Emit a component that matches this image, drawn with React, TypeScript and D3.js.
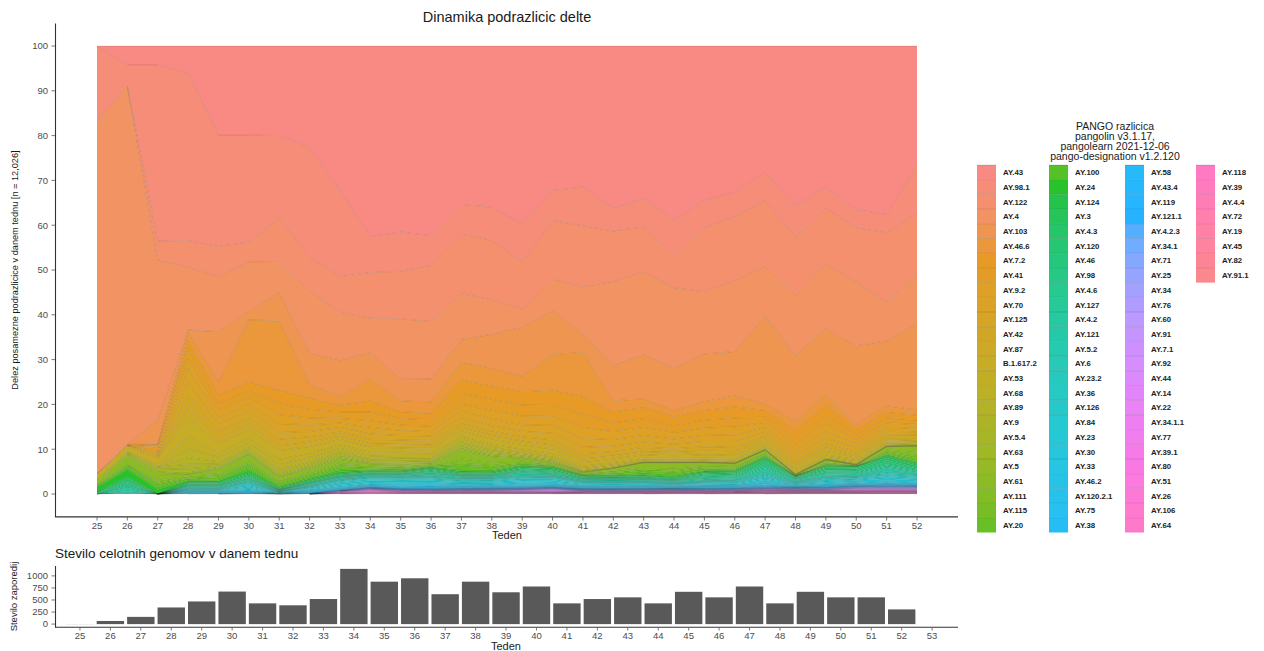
import React from "react";
import * as d3 from "d3";

const weeks = [25, 26, 27, 28, 29, 30, 31, 32, 33, 34, 35, 36, 37, 38, 39, 40, 41, 42, 43, 44, 45, 46, 47, 48, 49, 50, 51, 52];

const lineages = ["AY.43","AY.98.1","AY.122","AY.4","AY.103","AY.46.6","AY.7.2","AY.41","AY.9.2","AY.70","AY.125","AY.42","AY.87","B.1.617.2","AY.53","AY.68","AY.89","AY.9","AY.5.4","AY.63","AY.5","AY.61","AY.111","AY.115","AY.20","AY.100","AY.24","AY.124","AY.3","AY.4.3","AY.120","AY.46","AY.98","AY.4.6","AY.127","AY.4.2","AY.121","AY.5.2","AY.6","AY.23.2","AY.36","AY.126","AY.84","AY.23","AY.30","AY.33","AY.46.2","AY.120.2.1","AY.75","AY.38","AY.58","AY.43.4","AY.119","AY.121.1","AY.4.2.3","AY.34.1","AY.71","AY.25","AY.34","AY.76","AY.60","AY.91","AY.7.1","AY.92","AY.44","AY.14","AY.22","AY.34.1.1","AY.77","AY.39.1","AY.80","AY.51","AY.26","AY.106","AY.64","AY.118","AY.39","AY.4.4","AY.72","AY.19","AY.45","AY.82","AY.91.1"];

// share (%) of each lineage per week, weeks 25..52
const AY_43 = [0,4.2,4.2,6,20,20,20,22.8,32.5,43.3,42.2,42.9,35.9,36.5,40.4,32.8,31.9,36.8,34.6,39.5,35,33,28.6,36.2,32,37.3,38.4,27];
const AY_98_1 = [16.5,4.8,39.1,37.5,25,24,18.4,24.7,19.5,8.2,8.9,6.7,6.7,7.5,8.5,6.8,8.8,5.2,6.5,7.9,6.1,5.5,6.5,7.1,4.9,4.1,4.2,11.1];
const AY_122 = [0,0,4.2,6,6.8,4.5,9.8,7.5,8,10.4,10.8,12.7,13.4,13.5,10.8,13.4,13.8,11.4,10.1,7.5,14.5,14.5,15,13.1,12.4,12.4,15.7,13.8];
const AY_4 = [78.5,79.5,35.5,14,12.3,11,7,14,10.8,7.8,13.7,13,10.4,7.8,4.1,7.1,10.8,19,18.9,18.2,14.1,16,11.1,13.7,14.9,14.5,8.9,11.2];
const AY_103 = [0,0,5.5,0.5,11.2,2,6.3,7.1,8.2,6,4.9,5.2,5.2,7.7,11.1,10,4,8.1,10,9.6,10.8,10,20,14.9,14.8,17.8,14.8,19.6];
const AY_46_6 = [0,0.3,0,2,3,14,15.5,3,2,5,2.5,2.5,4,4,3.5,8,10,2.5,2,1.5,2,2.5,1.5,2,2.5,1.2,1.5,1.2];
const AY_7_2 = [0,0,0.5,1.5,2,2,3,2.5,1.5,2.5,1.5,1.5,3,3,3,3.5,4,2.5,2.5,2,2.2,2.5,1.5,1.8,2.2,1.2,1.3,1.1];
const AY_41 = [0,0,1,2.5,1.5,1.5,2.5,2,1.5,2,1.5,1.5,2.5,2.5,2.5,2.5,3,2,2,1.5,1.8,2,1.2,1.5,2,1.1,1.1,1];
const AY_9_2 = [0,0,0.5,2,1.5,1.5,2,1.5,1,1.5,1.2,1.2,1.5,2,2,2,2.5,1.8,1.8,1.5,1.6,1.8,1.2,1.4,1.8,1,1,0.9];
const AY_70 = [0,0,0.5,3,1.5,1.5,2,1.5,1,1.5,1.2,1,1.5,1.5,1.5,1.8,2,1.5,1.5,1.2,1.4,1.5,1,1.2,1.5,0.9,0.9,0.8];
const AY_125 = [0,0,0,3,1.5,1.5,1.5,1.2,1,1.2,1,1,1.2,1.2,1.2,1.5,1.5,1.2,1.2,1,1.2,1.3,1,1,1.2,0.8,0.8,0.7];
const AY_42 = [0,0.4,0.5,3,2,1.5,1.5,1.2,1,1,1,1,1,1,1,1.2,1.2,1,1,0.9,1,1,0.8,0.9,1,0.7,0.7,0.6];
const AY_87 = [0,0,0,2,1,1,1,1,0.7,0.8,0.8,0.8,0.8,0.8,0.8,0.9,0.8,0.7,0.7,0.7,0.8,0.8,0.7,0.7,0.8,0.6,0.6,0.5];
const B_1_617_2 = [1,1,1.5,4,2,2,2,1.5,1.2,1.2,1,1,1.2,1.2,1,1,0.8,0.8,0.8,0.7,0.8,0.8,0.6,0.7,0.8,0.6,0.5,0.5];
const AY_53 = [0,0,0.5,3,1,1.2,1.2,1,0.8,0.8,0.7,0.6,0.7,0.7,0.6,0.6,0.5,0.5,0.4,0.4,0.4,0.5,0.4,0.4,0.5,0.5,0.4,0.4];
const AY_68 = [0,0,0,2,1,1,1,0.8,0.6,0.6,0.6,0.5,0.6,0.5,0.4,0.4,0.3,0.3,0.3,0.2,0.3,0.3,0.3,0.3,0.3,0.3,0.2,0.2];
const AY_89 = [0,0,0,1.5,0.5,0.5,0.6,0.5,0.4,0.3,0.3,0.3,0.3,0.3,0.3,0.3,0.2,0.2,0.1,0.1,0.1,0.1,0.1,0.1,0.1,0.2,0.1,0.1];
const AY_9 = [0.5,0.5,0.5,1,0.5,0.3,0.5,0.5,0.5,0.4,0.4,0.4,0.6,0.5,0.3,0.3,0.2,0.2,0.1,0.1,0.1,0.1,0.1,0.1,0.1,0.1,0.1,0.1];
const AY_5_4 = [0,0,0.5,0.7,0.3,0.4,0.3,0.3,0.4,0.2,0.3,0.3,0.4,0.3,0.2,0.2,0.1,0.05,0.05,0.05,0.05,0.05,0.05,0.05,0.05,0.05,0.05,0.05];
const AY_63 = [0,0,0,0.5,0.2,0.2,0.2,0.2,0.3,0.2,0.3,0.2,0.3,0.3,0.2,0.2,0.05,0.03,0.03,0.03,0.03,0.03,0.03,0.03,0.03,0.03,0.03,0.03];
const AY_5 = [0.5,0.5,0.5,0,0.2,0.1,0.1,0.2,0.3,0.1,0.2,0.2,0.3,0.2,0.1,0.1,0.05,0.02,0.02,0.02,0.02,0.02,0.02,0.02,0.02,0.02,0.02,0.02];
const AY_61 = [0.5,1.5,1.5,0.5,1,1.5,0.8,0.8,1,0.5,0.5,0.3,2,1.3,0.6,0.4,0.3,0.6,1,1.2,0.7,0.6,0.6,0.1,0.5,0.15,0.8,1.5];
const AY_111 = [0,0.5,0.5,0.3,0.5,0.5,0.4,0.4,0.5,0.3,0.3,0.1,1,0.7,0.4,0.2,0.1,0.3,0.5,0.6,0.4,0.3,0.3,0.05,0.3,0.05,0.4,0.8];
const AY_115 = [0,0,0.3,0.2,0.3,0.3,0.2,0.2,0.3,0.2,0.2,0.1,0.5,0.4,0.2,0.1,0.1,0.2,0.3,0.3,0.2,0.2,0.2,0.05,0.1,0.05,0.2,0.4];
const AY_20 = [0.5,0.5,0.7,0.3,0.5,0.8,0.5,0.5,0.6,0.3,0.3,0.2,0.8,0.6,0.3,0.2,0.1,0.3,0.5,0.5,0.4,0.3,0.3,0.05,0.3,0.05,0.4,0.7];
const AY_100 = [0,0.5,0.5,0.2,0.3,0.5,0.3,0.3,0.3,0.2,0.1,0.1,0.4,0.3,0.2,0.1,0.1,0.2,0.3,0.4,0.2,0.2,0.2,0.03,0.1,0.05,0.2,0.4];
const AY_24 = [1,1.5,1,0.3,0.3,0.5,0.3,0.3,0.4,0.1,0.1,0.05,0.3,0.2,0.1,0.1,0.05,0.1,0.2,0.2,0.2,0.1,0.1,0.01,0.1,0.03,0.1,0.2];
const AY_124 = [0,0,0,0.1,0.1,0.2,0.1,0.1,0.1,0.1,0.1,0.05,0.1,0.1,0.1,0.1,0.05,0.1,0.2,0.2,0.1,0.1,0.1,0.01,0.1,0.02,0.1,0.2];
const AY_3 = [0,0.5,0,0.2,0.2,0.3,0.1,0.2,0.2,0.2,0.2,0.2,0.2,0.2,0.3,0.3,0.2,0.2,0.2,0.1,0.2,0.2,0.4,0.1,0.3,0.2,0.4,0.3];
const AY_4_3 = [0,0.5,0,0.2,0.2,0.3,0.1,0.2,0.2,0.2,0.2,0.3,0.2,0.2,0.3,0.3,0.2,0.2,0.2,0.2,0.3,0.3,0.5,0.2,0.3,0.3,0.5,0.3];
const AY_120 = [0,0.3,0,0.1,0.1,0.2,0.05,0.1,0.1,0.1,0.1,0.2,0.1,0.1,0.2,0.2,0.1,0.1,0.1,0.1,0.2,0.2,0.4,0.1,0.3,0.3,0.4,0.3];
const AY_46 = [0.5,0.5,0,0.1,0.1,0.2,0.05,0.1,0.1,0.1,0.1,0.2,0.1,0.1,0.2,0.2,0.1,0.1,0.1,0.1,0.2,0.2,0.4,0.1,0.3,0.3,0.5,0.3];
const AY_98 = [0,0.3,0,0.1,0.1,0.2,0.05,0.1,0.1,0.1,0.1,0.2,0.1,0.1,0.2,0.2,0.1,0.1,0.1,0.1,0.2,0.2,0.3,0.1,0.2,0.2,0.3,0.2];
const AY_4_6 = [0,0.2,0,0.1,0.1,0.1,0.05,0.1,0.1,0.1,0.1,0.2,0.1,0.1,0.2,0.2,0.1,0.1,0.1,0.1,0.2,0.2,0.3,0.1,0.2,0.2,0.3,0.2];
const AY_127 = [0,0.2,0,0.1,0.1,0.1,0.05,0.1,0.1,0.1,0.1,0.1,0.1,0.1,0.1,0.1,0.1,0.1,0.1,0.1,0.2,0.2,0.3,0.1,0.2,0.2,0.3,0.2];
const AY_4_2 = [0,0.8,0,0.2,0.2,0.4,0.1,0.2,0.3,0.2,0.2,0.4,0.3,0.3,0.4,0.3,0.2,0.2,0.2,0.2,0.3,0.3,0.7,0.3,0.5,0.4,0.7,0.4];
const AY_121 = [0,0.2,0,0.1,0.1,0.1,0.05,0.1,0.1,0.1,0.1,0.1,0.1,0.1,0.1,0.1,0.1,0.1,0.1,0.1,0.1,0.1,0.2,0.1,0.1,0.1,0.2,0.1];
const AY_5_2 = [0,0.2,0,0.1,0.1,0.1,0.05,0.1,0.1,0.1,0.1,0.1,0.1,0.1,0.1,0.1,0.1,0.1,0.1,0.1,0.1,0.1,0.2,0.1,0.1,0.1,0.2,0.1];
const AY_6 = [0,0.2,0,0.1,0.1,0.2,0.05,0.1,0.1,0.1,0.1,0.2,0.1,0.1,0.2,0.1,0.1,0.1,0.1,0.1,0.1,0.1,0.3,0.1,0.2,0.1,0.3,0.2];
const AY_23_2 = [0,0,0,0.1,0.1,0.2,0.05,0.1,0.2,0.2,0.2,0.2,0.2,0.2,0.2,0.2,0.1,0.1,0.1,0.1,0.1,0.2,0.2,0.1,0.2,0.2,0.2,0.2];
const AY_36 = [0,0,0,0.1,0.1,0.2,0.05,0.1,0.2,0.2,0.2,0.2,0.2,0.2,0.2,0.2,0.1,0.1,0.1,0.1,0.1,0.1,0.2,0.1,0.2,0.2,0.2,0.2];
const AY_126 = [0,0,0,0.1,0.1,0.3,0.05,0.2,0.3,0.3,0.3,0.3,0.2,0.2,0.3,0.3,0.2,0.2,0.2,0.1,0.2,0.2,0.3,0.1,0.2,0.2,0.3,0.3];
const AY_84 = [0,0,0,0.1,0.1,0.3,0.05,0.2,0.3,0.3,0.3,0.3,0.2,0.2,0.3,0.3,0.2,0.2,0.2,0.1,0.2,0.2,0.3,0.1,0.2,0.2,0.3,0.3];
const AY_23 = [0,0,0,0.1,0.1,0.3,0.05,0.2,0.3,0.3,0.3,0.3,0.3,0.3,0.3,0.3,0.2,0.2,0.2,0.2,0.2,0.2,0.4,0.2,0.3,0.3,0.4,0.3];
const AY_30 = [0,0,0,0.1,0.1,0.2,0.05,0.1,0.2,0.2,0.2,0.2,0.2,0.2,0.2,0.2,0.1,0.1,0.1,0.1,0.1,0.1,0.2,0.1,0.2,0.2,0.2,0.2];
const AY_33 = [0,0,0,0.1,0.1,0.2,0.05,0.1,0.2,0.2,0.2,0.2,0.2,0.2,0.2,0.2,0.1,0.1,0.1,0.1,0.1,0.1,0.2,0.1,0.2,0.2,0.2,0.2];
const AY_46_2 = [0,0,0,0.1,0.1,0.1,0.05,0.1,0.1,0.1,0.2,0.2,0.1,0.1,0.2,0.1,0.1,0.1,0.1,0.1,0.1,0.1,0.2,0.1,0.1,0.1,0.2,0.1];
const AY_120_2_1 = [0,0,0,0.1,0.1,0.1,0.05,0.1,0.1,0.1,0.2,0.2,0.1,0.1,0.2,0.1,0.1,0.1,0.1,0.1,0.1,0.1,0.2,0.1,0.1,0.1,0.2,0.1];
const AY_75 = [0,0,0,0.1,0.1,0.1,0.05,0.1,0.1,0.1,0.1,0.1,0.1,0.1,0.1,0.1,0.1,0.1,0.1,0.05,0.1,0.1,0.1,0.05,0.1,0.1,0.1,0.1];
const AY_38 = [0,0,0,0.1,0.05,0.1,0.05,0.1,0.1,0.1,0.1,0.1,0.1,0.1,0.1,0.1,0.1,0.1,0.1,0.05,0.1,0.1,0.1,0.05,0.1,0.1,0.1,0.1];
const AY_58 = [0,0,0,0.05,0.05,0.1,0,0.05,0.1,0.1,0.1,0.1,0.1,0.1,0.1,0.1,0.05,0.05,0.05,0.05,0.1,0.1,0.1,0.05,0.1,0.1,0.1,0.1];
const AY_43_4 = [0,0,0,0,0.05,0.05,0,0.05,0.05,0.05,0.05,0.1,0.05,0.05,0.1,0.05,0.05,0.05,0.05,0.05,0.05,0.05,0.1,0.05,0.05,0.05,0.1,0.05];
const AY_119 = [0,0,0,0,0,0.05,0,0.05,0.05,0.05,0.05,0.05,0.05,0.05,0.05,0.05,0.05,0.05,0.05,0.05,0.05,0.05,0.1,0.05,0.05,0.05,0.1,0.05];
const AY_121_1 = [0,0,0,0,0,0,0,0,0.05,0.05,0.05,0.05,0.05,0.05,0.05,0.05,0.05,0,0.05,0,0.05,0.05,0.05,0.05,0.05,0.05,0.05,0.05];
const AY_4_2_3 = [0,0,0,0,0,0,0,0,0,0.05,0.05,0.05,0.05,0.05,0.05,0.05,0.05,0.05,0.05,0.05,0.05,0.05,0.05,0.05,0.05,0.05,0.05,0.05];
const AY_34_1 = [0,0,0,0,0,0,0,0,0,0,0.05,0.05,0.05,0.05,0.05,0.05,0.05,0.05,0.05,0.05,0.05,0.05,0.05,0.05,0.1,0.1,0.1,0.1];
const AY_71 = [0,0,0,0,0,0,0,0,0.05,0.05,0.05,0.05,0.05,0.05,0.05,0.05,0,0,0,0,0,0,0,0,0,0,0,0];
const AY_25 = [0,0,0,0,0,0.05,0,0.05,0.05,0.05,0.05,0.05,0.05,0.05,0.05,0.05,0.05,0.05,0.05,0.05,0.05,0.05,0.05,0.05,0.05,0.05,0.05,0.05];
const AY_34 = [0,0,0,0,0,0,0,0,0,0.05,0.05,0.05,0.05,0.05,0.05,0.05,0.05,0.05,0.05,0.05,0.05,0.05,0.05,0.05,0.05,0.1,0.1,0.1];
const AY_76 = [0,0,0,0,0,0,0,0,0,0,0,0.05,0.05,0.05,0.05,0.05,0.05,0.05,0.05,0.05,0.05,0.05,0.05,0.05,0.05,0.05,0.05,0.05];
const AY_60 = [0,0,0,0,0,0,0,0,0,0,0,0,0,0.05,0.05,0.05,0.05,0.05,0.05,0.05,0.05,0.05,0.05,0.05,0.05,0.05,0.05,0.05];
const AY_91 = [0,0,0,0,0,0,0,0,0,0,0,0,0.05,0.05,0.05,0.1,0.05,0.05,0.05,0.05,0.05,0.05,0.05,0.05,0.05,0.1,0.1,0.1];
const AY_7_1 = [0,0,0,0,0,0,0,0,0,0.05,0.05,0.05,0.05,0.05,0.05,0.1,0.05,0.05,0.05,0.05,0.05,0.05,0.05,0.05,0.05,0.1,0.1,0.1];
const AY_92 = [0,0,0,0,0,0,0,0,0,0,0.05,0.05,0.05,0.05,0.1,0.1,0.05,0.05,0.05,0.05,0.05,0.05,0.05,0.05,0.05,0.1,0.1,0.1];
const AY_44 = [0,0,0,0,0,0.05,0,0.05,0.1,0.1,0.1,0.1,0.1,0.1,0.1,0.15,0.05,0.05,0.05,0.05,0.05,0.05,0.1,0.05,0.05,0.1,0.1,0.1];
const AY_14 = [0,0,0,0,0,0,0,0,0.05,0.05,0.05,0.05,0.05,0.05,0.1,0.1,0.05,0.05,0.05,0.05,0.05,0.05,0.05,0.05,0.05,0.05,0.05,0.05];
const AY_22 = [0,0,0,0,0,0,0,0,0.05,0.05,0.05,0.05,0.05,0.05,0.05,0.05,0.05,0.05,0.05,0.05,0.05,0.05,0.05,0.05,0.05,0.05,0.05,0.05];
const AY_34_1_1 = [0,0,0,0,0,0,0,0,0,0,0,0,0,0,0,0,0,0,0,0,0,0,0.05,0.05,0.05,0.1,0.1,0.1];
const AY_77 = [0,0,0,0,0,0,0,0,0.05,0.1,0.05,0.05,0.05,0.05,0.05,0.05,0.05,0.05,0.05,0.05,0.05,0.05,0.05,0.05,0.05,0.05,0.05,0.05];
const AY_39_1 = [0,0,0,0,0,0,0,0,0.1,0.2,0.1,0.05,0.05,0.05,0.05,0.05,0.05,0.05,0.05,0.05,0.05,0.05,0.05,0.05,0.05,0.05,0.05,0.05];
const AY_80 = [0,0,0,0,0,0,0,0,0.05,0.1,0.05,0.05,0.05,0.05,0.05,0.05,0.05,0.05,0.05,0.05,0.05,0.05,0.05,0.05,0.05,0.05,0.05,0.05];
const AY_51 = [0,0,0,0,0,0,0,0,0.05,0.1,0.05,0.05,0.05,0.05,0.05,0.05,0.05,0.05,0.05,0.05,0.05,0.05,0.05,0.05,0.05,0.05,0.05,0.05];
const AY_26 = [0,0,0,0,0,0,0,0,0.05,0.1,0.05,0.05,0.05,0.05,0.05,0.05,0,0,0,0,0,0,0,0,0,0,0,0];
const AY_106 = [0,0,0,0,0,0,0,0,0,0.05,0.05,0.05,0.05,0.05,0.05,0.05,0.05,0.05,0.05,0.05,0.05,0.05,0.1,0.05,0.05,0.05,0.05,0.05];
const AY_64 = [0,0,0,0,0,0,0,0,0.05,0.1,0.05,0.05,0.05,0.05,0.05,0.05,0.05,0.05,0.05,0.05,0.05,0.05,0.05,0.05,0.05,0.05,0.05,0.05];
const AY_118 = [0,0,0,0,0,0,0,0,0,0,0,0,0,0,0,0,0,0,0,0,0,0,0.05,0.05,0.05,0.05,0.1,0.1];
const AY_39 = [0,0,0,0,0,0,0,0,0.05,0.1,0.05,0.05,0.05,0.05,0.05,0.05,0.05,0.05,0.05,0.05,0.05,0.05,0.05,0.05,0.05,0.05,0.05,0.05];
const AY_4_4 = [0,0,0,0,0,0,0,0,0,0.05,0.05,0.05,0.05,0.05,0.05,0.05,0.05,0.05,0.05,0.05,0.05,0.05,0.05,0.05,0.05,0.05,0.05,0.05];
const AY_72 = [0,0,0,0,0,0,0,0,0,0,0,0,0,0,0,0,0.05,0.05,0.05,0.05,0.05,0.05,0.05,0.05,0.05,0.05,0.05,0.05];
const AY_19 = [0,0,0,0,0,0,0,0,0.05,0.05,0.05,0.05,0.05,0.05,0.05,0.05,0.05,0.05,0.05,0.05,0.05,0.05,0.05,0.05,0.05,0.05,0.05,0.05];
const AY_45 = [0,0,0,0,0,0,0,0,0,0,0,0,0,0,0,0,0,0,0,0.05,0.05,0.05,0.05,0.05,0.05,0.05,0.05,0.05];
const AY_82 = [0,0,0,0,0,0,0,0,0,0,0,0,0,0,0,0,0,0,0,0,0,0.05,0.05,0.05,0.05,0.05,0.05,0.05];
const AY_91_1 = [0,0,0,0,0,0,0,0,0,0,0,0,0,0,0,0,0,0,0,0,0,0,0,0.05,0.05,0.05,0.05,0.05];

const lineageSeries = [AY_43, AY_98_1, AY_122, AY_4, AY_103, AY_46_6, AY_7_2, AY_41, AY_9_2, AY_70, AY_125, AY_42, AY_87, B_1_617_2, AY_53, AY_68, AY_89, AY_9, AY_5_4, AY_63, AY_5, AY_61, AY_111, AY_115, AY_20, AY_100, AY_24, AY_124, AY_3, AY_4_3, AY_120, AY_46, AY_98, AY_4_6, AY_127, AY_4_2, AY_121, AY_5_2, AY_6, AY_23_2, AY_36, AY_126, AY_84, AY_23, AY_30, AY_33, AY_46_2, AY_120_2_1, AY_75, AY_38, AY_58, AY_43_4, AY_119, AY_121_1, AY_4_2_3, AY_34_1, AY_71, AY_25, AY_34, AY_76, AY_60, AY_91, AY_7_1, AY_92, AY_44, AY_14, AY_22, AY_34_1_1, AY_77, AY_39_1, AY_80, AY_51, AY_26, AY_106, AY_64, AY_118, AY_39, AY_4_4, AY_72, AY_19, AY_45, AY_82, AY_91_1];

// genome counts per week
const barWeeks = [25, 26, 27, 28, 29, 30, 31, 32, 33, 34, 35, 36, 37, 38, 39, 40, 41, 42, 43, 44, 45, 46, 47, 48, 49, 50, 51, 52];
const barCounts = [2, 65, 150, 345, 470, 675, 430, 390, 520, 1145, 880, 950, 620, 880, 660, 780, 430, 520, 555, 430, 670, 555, 780, 430, 670, 555, 555, 305];

const yTicksTop = [0, 10, 20, 30, 40, 50, 60, 70, 80, 90, 100];
const yTicksBottom = [0, 250, 500, 750, 1000];
const xTicksBottom = [25, 26, 27, 28, 29, 30, 31, 32, 33, 34, 35, 36, 37, 38, 39, 40, 41, 42, 43, 44, 45, 46, 47, 48, 49, 50, 51, 52, 53];

const legendTitle = ["PANGO razlicica", "pangolin v3.1.17,", "pangolearn 2021-12-06", "pango-designation v1.2.120"];

// ggplot2-like hue colour (polar LUV -> sRGB)
function hueColor(h: number, c = 100, l = 65): string {
  const hr = (h * Math.PI) / 180;
  const U = c * Math.cos(hr);
  const V = c * Math.sin(hr);
  const Xn = 95.047, Yn = 100.0, Zn = 108.883;
  const Y = l > 7.999592 ? Yn * Math.pow((l + 16) / 116, 3) : (Yn * l) / 903.3;
  const den = Xn + 15 * Yn + 3 * Zn;
  const un = (4 * Xn) / den;
  const vn = (9 * Yn) / den;
  const u = U / (13 * l) + un;
  const v = V / (13 * l) + vn;
  const X = (9.0 * Y * u) / (4 * v);
  const Z = -X / 3 - 5 * Y + (3 * Y) / v;
  const x = X / 100, y = Y / 100, z = Z / 100;
  const lin = [
    3.240479 * x - 1.53715 * y - 0.498535 * z,
    -0.969256 * x + 1.875992 * y + 0.041556 * z,
    0.055648 * x - 0.204043 * y + 1.057311 * z,
  ];
  const g = lin.map((t) => {
    const s = t > 0.00304 ? 1.055 * Math.pow(t, 1 / 2.4) - 0.055 : 12.92 * t;
    return Math.round(255 * Math.max(0, Math.min(1, s)));
  });
  return d3.rgb(g[0], g[1], g[2]).formatHex();
}

const FONT = "'Liberation Sans', Arial, Helvetica, sans-serif";

export default function App() {
  const n = lineages.length;
  const colors = lineages.map((_, j) => hueColor(15 + (360 * j) / n));
  const colorOf = new Map(lineages.map((name, j) => [name, colors[j]]));

  const rows = weeks.map((w, i) => {
    const r: any = { week: w };
    lineages.forEach((name, j) => {
      r[name] = lineageSeries[j][i];
    });
    return r;
  });

  const stacked = d3
    .stack<any>()
    .keys([...lineages].reverse())
    .offset(d3.stackOffsetExpand)(rows);

  const xTop = d3.scaleLinear().domain([23.65, 53.35]).range([56, 958]);
  const yTop = d3.scaleLinear().domain([-0.05, 1.05]).range([516.4, 23.6]);

  const area = d3
    .area<any>()
    .x((d) => xTop(d.data.week))
    .y0((d) => yTop(d[0]))
    .y1((d) => yTop(d[1]));

  // upper outline of each layer, as continuous runs where the layer has some thickness
  const upperPath = (s: any[]) => {
    let p = "";
    let open = false;
    for (let i = 0; i < s.length - 1; i++) {
      const a = s[i], b = s[i + 1];
      const keep = a[1] - a[0] > 1e-9 || b[1] - b[0] > 1e-9;
      if (!keep) {
        open = false;
        continue;
      }
      if (!open) {
        p += `M${xTop(a.data.week)},${yTop(a[1])}`;
        open = true;
      }
      p += `L${xTop(b.data.week)},${yTop(b[1])}`;
    }
    return p;
  };

  const xBot = d3.scaleLinear().domain([24.18, 53.85]).range([55, 958]);
  const yBot = d3.scaleLinear().domain([-60, 1205]).range([627, 566]);
  const bw = 0.9 * (xBot(1) - xBot(0));

  const keyX = [977, 1049, 1125, 1196];
  const rowH = 14.7;

  return (
    <svg
      width={1264}
      height={651}
      style={{ position: "absolute", left: 0, top: 0, display: "block", background: "#fff" }}
      fontFamily={FONT}
    >
      {/* Title */}
      <text x={507} y={22} textAnchor="middle" fontSize={14.5} fill="#1a1a1a">
        Dinamika podrazlicic delte
      </text>

      {/* Stacked areas */}
      <g>
        {stacked.map((s) => (
          <path key={"a" + s.key} d={area(s) || ""} fill={colorOf.get(s.key)} fillOpacity={0.85} stroke="none" />
        ))}
        {stacked.map((s) => (
          <path
            key={"l" + s.key}
            d={upperPath(s)}
            fill="none"
            stroke="#000"
            strokeOpacity={0.18}
            strokeWidth={0.6}
            strokeLinejoin="round"
          />
        ))}
      </g>

      {/* Top axes */}
      <line x1={55.5} x2={55.5} y1={23.6} y2={517} stroke="#333" strokeWidth={1.1} />
      <line x1={55} x2={958} y1={516.9} y2={516.9} stroke="#333" strokeWidth={1.1} />
      {yTicksTop.map((t) => (
        <g key={"yt" + t}>
          <line x1={51.5} x2={55} y1={yTop(t / 100)} y2={yTop(t / 100)} stroke="#555" strokeWidth={0.8} />
          <text x={48} y={yTop(t / 100) + 3.3} textAnchor="end" fontSize={9.5} fill="#4d4d4d">
            {t}
          </text>
        </g>
      ))}
      {weeks.map((w) => (
        <g key={"xt" + w}>
          <line x1={xTop(w)} x2={xTop(w)} y1={517} y2={520.5} stroke="#555" strokeWidth={0.8} />
          <text x={xTop(w)} y={528.5} textAnchor="middle" fontSize={9.5} fill="#4d4d4d">
            {w}
          </text>
        </g>
      ))}
      <text x={507} y={539} textAnchor="middle" fontSize={11} fill="#1a1a1a">
        Teden
      </text>
      <text
        transform={`translate(18,${(23.6 + 516.4) / 2}) rotate(-90)`}
        textAnchor="middle"
        fontSize={9.2}
        fill="#1a1a1a"
      >
        Delez posamezne podrazlicice v danem tednu [n = 12,026]
      </text>

      {/* Legend */}
      {legendTitle.map((t, i) => (
        <text key={"lt" + i} x={1115} y={130 + i * 10} textAnchor="middle" fontSize={10.5} fill="#1a1a1a">
          {t}
        </text>
      ))}
      {lineages.map((name, j) => {
        const col = Math.floor(j / 25);
        const row = j % 25;
        const x = keyX[col];
        const y = 165 + row * rowH;
        return (
          <g key={"lg" + name}>
            <rect x={x} y={y} width={19} height={rowH} fill={colors[j]} fillOpacity={0.85} />
            <line x1={x} x2={x + 19} y1={y} y2={y} stroke="#000" strokeOpacity={0.2} strokeWidth={0.6} />
            <text x={x + 26} y={y + 10.2} fontSize={7.8} fontWeight="bold" fill="#222">
              {name}
            </text>
          </g>
        );
      })}

      {/* Bottom chart */}
      <text x={55} y={558} fontSize={13.5} fill="#1a1a1a">
        Stevilo celotnih genomov v danem tednu
      </text>
      {barWeeks.map((w, i) => (
        <rect
          key={"b" + w}
          x={xBot(w) - bw / 2}
          y={yBot(barCounts[i])}
          width={bw}
          height={yBot(0) - yBot(barCounts[i])}
          fill="#595959"
        />
      ))}
      <line x1={55.5} x2={55.5} y1={566} y2={627.5} stroke="#333" strokeWidth={1.1} />
      <line x1={55} x2={958} y1={627.2} y2={627.2} stroke="#333" strokeWidth={1.1} />
      {yTicksBottom.map((t) => (
        <g key={"ybt" + t}>
          <line x1={51.5} x2={55} y1={yBot(t)} y2={yBot(t)} stroke="#555" strokeWidth={0.8} />
          <text x={48} y={yBot(t) + 3.3} textAnchor="end" fontSize={9.5} fill="#4d4d4d">
            {t}
          </text>
        </g>
      ))}
      {xTicksBottom.map((w) => (
        <g key={"xbt" + w}>
          <line x1={xBot(w)} x2={xBot(w)} y1={627.5} y2={630.5} stroke="#555" strokeWidth={0.8} />
          <text x={xBot(w)} y={639} textAnchor="middle" fontSize={9.5} fill="#4d4d4d">
            {w}
          </text>
        </g>
      ))}
      <text x={506} y={650} textAnchor="middle" fontSize={11} fill="#1a1a1a">
        Teden
      </text>
      <text
        transform={`translate(17,${(566 + 627) / 2}) rotate(-90)`}
        textAnchor="middle"
        fontSize={9.5}
        fill="#1a1a1a"
      >
        Stevilo zaporedij
      </text>
    </svg>
  );
}
